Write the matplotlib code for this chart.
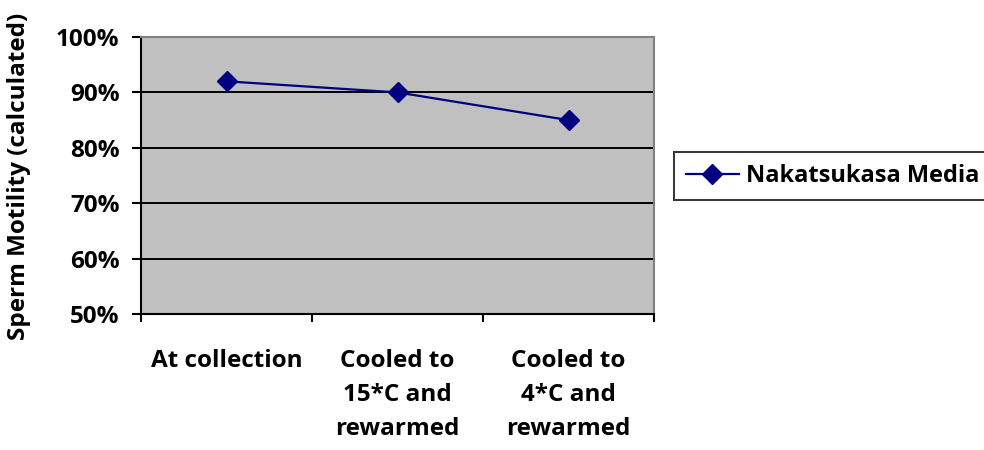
import matplotlib
matplotlib.use("Agg")
import matplotlib.pyplot as plt
from matplotlib.ticker import FixedLocator, NullFormatter

categories = ["At collection", "Cooled to\n15*C and\nrewarmed", "Cooled to\n4*C and\nrewarmed"]
values = [0.92, 0.90, 0.85]
yticks = [0.5, 0.6, 0.7, 0.8, 0.9, 1.0]
ytick_labels = ["50%", "60%", "70%", "80%", "90%", "100%"]
series_name = "Nakatsukasa Media"

plt.rcParams['font.family'] = ['Open Sans', 'DejaVu Sans']
plt.rcParams['font.weight'] = 'bold'
FS = 17.5

fig = plt.figure(figsize=(9.84, 4.5), dpi=100)
ax = fig.add_axes([141/984, 1-314/450, (654-141)/984, (314-37)/450])
ax.set_facecolor('#C0C0C0')

x = list(range(len(categories)))
line, = ax.plot(x, values, color='#000080', marker='D', markersize=10, linewidth=1.6,
                label=series_name, zorder=3)

ax.set_xlim(-0.5, len(categories) - 0.5)
ax.set_ylim(0.5, 1.0)
ax.set_yticks(yticks)
ax.set_yticklabels(ytick_labels, fontsize=FS, fontweight='bold')
ax.yaxis.grid(True, color='black', linewidth=1.4)
ax.set_axisbelow(True)

ax.xaxis.set_major_locator(FixedLocator([-0.5, 0.5, 1.5, 2.5]))
ax.xaxis.set_major_formatter(NullFormatter())
ax.xaxis.set_minor_locator(FixedLocator(x))
ax.set_xticklabels(categories, minor=True, fontsize=FS, fontweight='bold', linespacing=1.55)
ax.tick_params(axis='x', which='minor', length=0, pad=25)
ax.tick_params(axis='x', which='major', length=6, width=1.5, direction='out')
ax.tick_params(axis='y', length=6.5, width=1.5, direction='out', pad=9)

for side in ['left', 'bottom']:
    ax.spines[side].set_linewidth(1.5)
ax.spines['top'].set_color('#808080')
ax.spines['right'].set_color('#808080')
ax.spines['top'].set_linewidth(1.5)
ax.spines['right'].set_linewidth(1.5)

ax.set_ylabel("Sperm Motility (calculated)", fontsize=FS, fontweight='bold')
ax.yaxis.set_label_coords(19/984, 1-176/450, transform=fig.transFigure)
ax.yaxis.label.set_verticalalignment('center')

leg = fig.legend(handles=[line], loc='upper left', bbox_to_anchor=(674/984, 1-152/450),
                 frameon=True, fancybox=False, edgecolor='black', fontsize=17,
                 handlelength=2.25, borderpad=0.5, handletextpad=0.3, borderaxespad=0)
leg.get_frame().set_linewidth(1.4)
for t in leg.get_texts():
    t.set_fontweight('bold')

fig.savefig("out.png", dpi=100, facecolor='white')
